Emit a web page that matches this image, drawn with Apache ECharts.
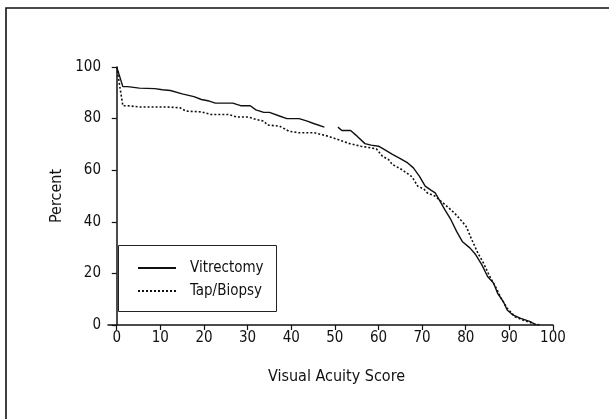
<!DOCTYPE html>
<html>
<head>
<meta charset="utf-8">
<script src="https://cdn.jsdelivr.net/npm/echarts@6/dist/echarts.min.js"></script>
<style>
html,body{margin:0;padding:0;background:#fff;}
#chart{width:609px;height:419px;}
</style>
</head>
<body>
<div id="chart"></div>
<script>
// ---- data ----
var seriesNames = ['Vitrectomy', 'Tap/Biopsy'];
var xTicks = [0, 10, 20, 30, 40, 50, 60, 70, 80, 90, 100];
var yTicks = [0, 20, 40, 60, 80, 100];

var vitX = [0, 1.4, 2.5, 5.2, 8.7, 10.5, 12.3, 15, 17.7, 19.4, 21.2, 22.6, 26.6, 28.4, 30.6, 31.9, 33.7, 35, 37.3, 39, 41.8, 43.5, 45.3, 47.6, 49, 50.7, 51.6, 53.6, 55.1, 56.9, 58.3, 60, 61.4, 63.2, 65, 66.7, 68, 69.4, 70.7, 72.1, 73, 73.9, 75.2, 76.6, 77.9, 79.2, 81, 82.3, 83.7, 85, 86.4, 87.3, 88.6, 89.5, 90.8, 92.6, 94.8, 96.2];
var vitY = [100, 92.4, 92.4, 91.8, 91.6, 91.2, 90.9, 89.6, 88.5, 87.4, 86.8, 86, 86, 85, 85, 83.4, 82.4, 82.4, 81, 80, 80, 79.1, 78, 76.7, null, 76.7, 75.4, 75.4, 73.2, 70.3, 69.7, 69.3, 68, 66.1, 64.5, 62.8, 60.9, 57.6, 53.8, 52.2, 51.2, 48.6, 44.7, 40.8, 36.3, 32.4, 29.8, 27.2, 23.3, 18.8, 16.2, 12.3, 9.1, 5.8, 3.9, 2.6, 1.3, 0];

var tapX = [0, 1.4, 2.5, 5.2, 11.4, 14.5, 15.9, 19.4, 21.6, 25.7, 27.5, 30.2, 31.9, 33.7, 34.6, 37.3, 39.5, 41.8, 45.3, 48, 50.7, 53.4, 56, 59.5, 60.9, 62.3, 63.2, 65.4, 67.7, 69, 70.4, 71.2, 73, 74.3, 75.7, 77.4, 78.8, 80.1, 81.4, 82.8, 84.1, 85.5, 86.8, 88.1, 89.5, 91.3, 93.5, 95.7, 97];
var tapY = [100, 85, 85, 84.5, 84.5, 84.2, 82.9, 82.6, 81.6, 81.6, 80.6, 80.6, 79.7, 79, 77.5, 77.1, 75.1, 74.5, 74.5, 73.4, 71.9, 70.3, 69.3, 68.3, 65.4, 64.1, 62.2, 60.2, 57.4, 53.8, 52.7, 51.2, 49.9, 48, 46, 43.4, 40.8, 38.2, 33, 27.8, 23.9, 18.8, 14.9, 10.4, 6.5, 3.2, 1.7, 0.4, 0];

function pairs(xs, ys) {
  return xs.map(function (x, i) { return [x, ys[i] === null ? '-' : ys[i]]; });
}

var FONT = "'Liberation Sans Narrow', 'Arial Narrow', 'DejaVu Sans Condensed', sans-serif";
var INK = '#111';

var chart = echarts.init(document.getElementById('chart'), null, {renderer: 'canvas'});
chart.setOption({
  animation: false,
  backgroundColor: '#fff',
  textStyle: {fontFamily: FONT, color: INK},
  grid: {left: 108, right: 56, top: 67, bottom: 94},
  xAxis: {
    type: 'value', min: -2, max: 100,
    name: 'Visual Acuity Score', nameLocation: 'middle', nameGap: 44,
    nameTextStyle: {fontFamily: FONT, fontSize: 16, color: INK, padding: [0, 0, 0, 12]},
    axisLine: {show: true, lineStyle: {color: INK, width: 1.5}},
    axisTick: {show: true, length: 5, lineStyle: {color: INK, width: 1.2}, customValues: xTicks},
    axisLabel: {fontFamily: FONT, fontSize: 15, color: INK, margin: 6, customValues: xTicks},
    splitLine: {show: false}
  },
  yAxis: {
    type: 'value', min: 0, max: 100,
    name: 'Percent', nameLocation: 'middle', nameGap: 40,
    nameTextStyle: {fontFamily: FONT, fontSize: 16, color: INK},
    axisLine: {show: true, lineStyle: {color: INK, width: 1.5}},
    axisTick: {show: true, length: 5, lineStyle: {color: INK, width: 1.2}, customValues: yTicks},
    axisLabel: {fontFamily: FONT, fontSize: 15, color: INK, margin: 7, customValues: yTicks},
    splitLine: {show: false}
  },
  legend: {
    left: 137, top: 260, orient: 'vertical', padding: 0,
    itemWidth: 38, itemHeight: 16, itemGap: 7,
    itemStyle: {opacity: 0},
    textStyle: {fontFamily: FONT, fontSize: 15, color: INK, lineHeight: 16, padding: [0, 0, 0, 9]},
    data: seriesNames
  },
  graphic: [
    {type: 'rect', shape: {x: 6, y: 8, width: 620, height: 430}, style: {fill: 'none', stroke: '#111', lineWidth: 1.6}, silent: true},
    {type: 'rect', shape: {x: 118.5, y: 245.5, width: 158, height: 66}, style: {fill: 'none', stroke: '#222', lineWidth: 1}, silent: true, z: 0}
  ],
  series: [
    {
      name: seriesNames[0], type: 'line', data: pairs(vitX, vitY),
      showSymbol: false, symbol: 'none', connectNulls: false,
      lineStyle: {color: INK, width: 1.4, type: 'solid'},
      itemStyle: {color: INK}
    },
    {
      name: seriesNames[1], type: 'line', data: pairs(tapX, tapY),
      showSymbol: false, symbol: 'none',
      lineStyle: {color: INK, width: 1.6, type: [2, 2]},
      itemStyle: {color: INK}
    }
  ]
});
</script>
</body>
</html>
